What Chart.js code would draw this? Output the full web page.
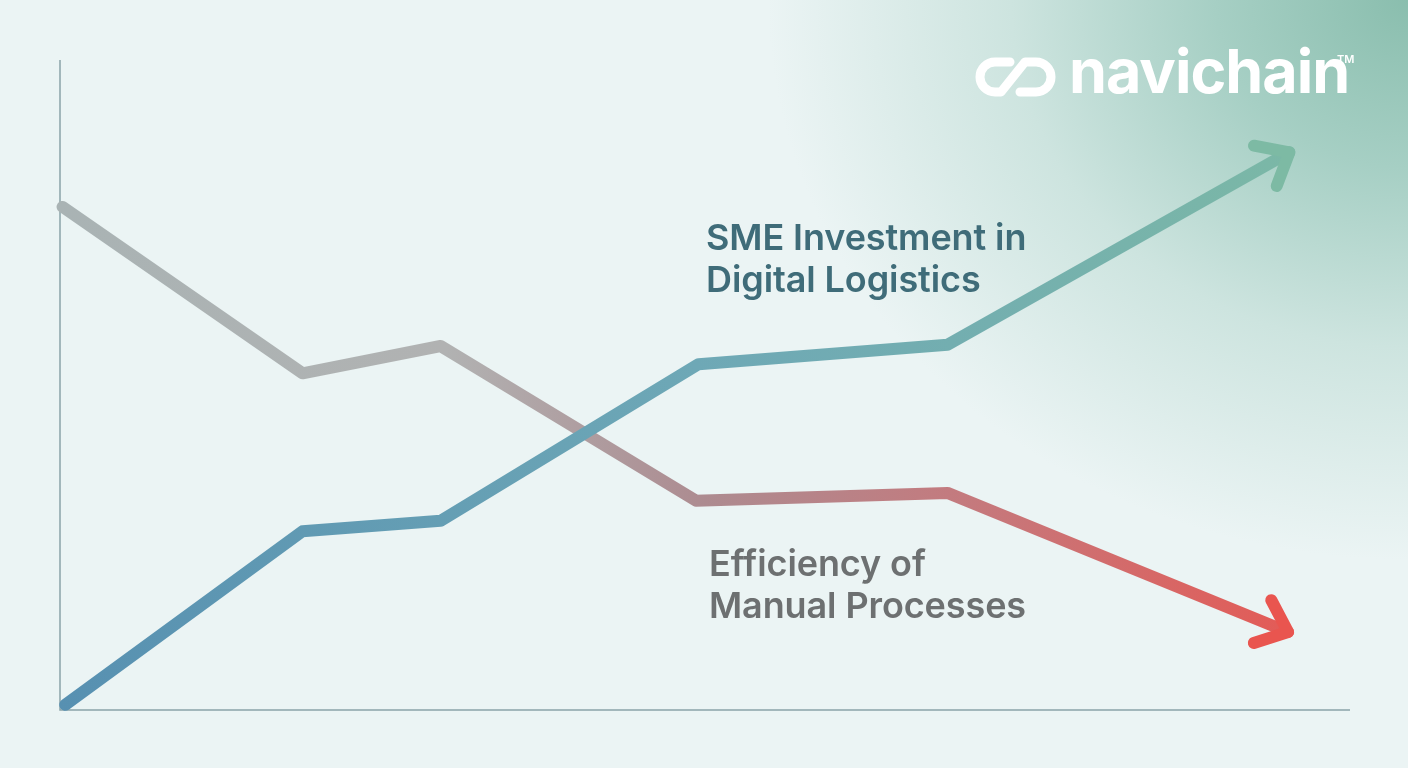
<!DOCTYPE html>
<html>
<head>
<meta charset="utf-8">
<script src="https://cdn.jsdelivr.net/npm/chart.js@4/dist/chart.umd.min.js"></script>
<style>
  html, body { margin: 0; padding: 0; }
  body {
    width: 1408px; height: 768px; overflow: hidden; position: relative;
    background:
      radial-gradient(ellipse 640px 560px at 100% 0%, #8abeae 0%, #a6cfc4 30%, #cde4df 62%, rgba(235,244,244,0) 100%),
      #ebf4f4;
    font-family: "Inter", "Open Sans", sans-serif;
  }
  #wrap { position: absolute; left: 0; top: 0; width: 1408px; height: 768px; }
  .label { position: absolute; font-weight: 600; font-size: 36px; line-height: 42px; letter-spacing: -0.1px; }
  #lblInvest { left: 706px; top: 216px; color: #3f6c79; }
  #lblEff { left: 709px; top: 542px; color: #6d7071; }
  #logo { position: absolute; left: 974px; top: 40px; width: 390px; height: 70px; color: #fff; }
  #logo svg { position: absolute; left: 0; top: 15px; }
  #logo .name { position: absolute; left: 95px; top: -4px; font-family: "Inter", sans-serif; font-weight: 700; font-size: 61px; letter-spacing: -1px; line-height: 70px; }
  #logo .tm { position: absolute; left: 363px; top: 12px; font-size: 11px; font-weight: 600; }
</style>
</head>
<body>
<div id="wrap"><canvas id="lineChart" width="1408" height="768"></canvas></div>
<div class="label" id="lblInvest">SME Investment in<br>Digital Logistics</div>
<div class="label" id="lblEff">Efficiency of<br>Manual Processes</div>
<div id="logo">
  <svg width="84" height="44" viewBox="0 0 84 44">
    <path d="M 36 7 H 21 A 15 15 0 0 0 21 37 H 27 L 51 7 H 62 A 15 15 0 0 1 62 37 H 46"
          fill="none" stroke="#fff" stroke-width="9" stroke-linecap="round" stroke-linejoin="round"/>
  </svg>
  <span class="name">navichain</span><span class="tm">TM</span>
</div>
<script>
// Chart values (x: position along the time axis 0-100, y: index 0-100)
const investX = [0.4, 18.8, 29.5, 49.5, 68.8, 95.3];
const investY = [0.8, 27.5, 29.1, 53.2, 56.2, 85.8];
const effX = [0.2, 18.8, 29.5, 49.3, 68.8, 95.2];
const effY = [77.4, 51.8, 56.0, 32.2, 33.4, 12.0];

const seriesLabels = ['SME Investment in Digital Logistics', 'Efficiency of Manual Processes'];

function toPoints(xs, ys) {
  return xs.map((x, i) => ({ x: x, y: ys[i] }));
}

// gradient along the line
function investGradient(context) {
  const chart = context.chart;
  const area = chart.chartArea;
  if (!area) return '#6fa6b4';
  const g = chart.ctx.createLinearGradient(area.left, area.bottom, area.right, area.top);
  g.addColorStop(0, '#5790b1');
  g.addColorStop(0.5, '#6ea8b6');
  g.addColorStop(1, '#7dbaa4');
  return g;
}

function effGradient(context) {
  const chart = context.chart;
  const area = chart.chartArea;
  if (!area) return '#b0a0a0';
  const g = chart.ctx.createLinearGradient(area.left, 0, area.right, 0);
  g.addColorStop(0, '#a9b3b4');
  g.addColorStop(0.3, '#b1b2b2');
  g.addColorStop(0.5, '#ad8b90');
  g.addColorStop(0.7, '#c47a7e');
  g.addColorStop(1, '#e9554f');
  return g;
}

// axis lines along chart area
const axisLines = {
  id: 'axisLines',
  beforeDatasetsDraw(chart) {
    const { ctx, chartArea } = chart;
    ctx.save();
    ctx.strokeStyle = '#8ba3a8';
    ctx.lineWidth = 1.5;
    ctx.beginPath();
    ctx.moveTo(chartArea.left, chartArea.top);
    ctx.lineTo(chartArea.left, chartArea.bottom);
    ctx.lineTo(chartArea.right, chartArea.bottom);
    ctx.stroke();
    ctx.restore();
  }
};

// arrowhead at the last point of each line
const arrowHeads = {
  id: 'arrowHeads',
  afterDatasetsDraw(chart) {
    const { ctx } = chart;
    const xs = chart.scales.x, ys = chart.scales.y;
    const colors = ['#7dbaa4', '#e9554f'];
    chart.data.datasets.forEach((ds, i) => {
      const n = ds.data.length;
      const p1 = ds.data[n - 2], p2 = ds.data[n - 1];
      const x1 = xs.getPixelForValue(p1.x), y1 = ys.getPixelForValue(p1.y);
      const x2 = xs.getPixelForValue(p2.x), y2 = ys.getPixelForValue(p2.y);
      const ang = Math.atan2(y2 - y1, x2 - x1);
      const len = 36, spread = Math.PI / 4.5;
      ctx.save();
      ctx.strokeStyle = colors[i];
      ctx.lineWidth = 12;
      ctx.lineCap = 'round';
      ctx.lineJoin = 'round';
      ctx.beginPath();
      ctx.moveTo(x2 - len * Math.cos(ang - spread), y2 - len * Math.sin(ang - spread));
      ctx.lineTo(x2, y2);
      ctx.lineTo(x2 - len * Math.cos(ang + spread), y2 - len * Math.sin(ang + spread));
      ctx.stroke();
      ctx.restore();
    });
  }
};

const ctx = document.getElementById('lineChart').getContext('2d');
new Chart(ctx, {
  type: 'line',
  data: {
    datasets: [
      {
        label: seriesLabels[0],
        data: toPoints(investX, investY),
        borderColor: investGradient,
        borderWidth: 12,
        borderCapStyle: 'round',
        borderJoinStyle: 'round',
        pointRadius: 0,
        tension: 0,
        clip: false
      },
      {
        label: seriesLabels[1],
        data: toPoints(effX, effY),
        borderColor: effGradient,
        borderWidth: 12,
        borderCapStyle: 'round',
        borderJoinStyle: 'round',
        pointRadius: 0,
        tension: 0,
        clip: false
      }
    ]
  },
  options: {
    responsive: false,
    animation: false,
    layout: { padding: { left: 60, right: 58, top: 60, bottom: 58 } },
    plugins: { legend: { display: false }, tooltip: { enabled: false } },
    scales: {
      x: { type: 'linear', min: 0, max: 100, display: false },
      y: { type: 'linear', min: 0, max: 100, display: false }
    }
  },
  plugins: [axisLines, arrowHeads]
});
</script>
</body>
</html>
